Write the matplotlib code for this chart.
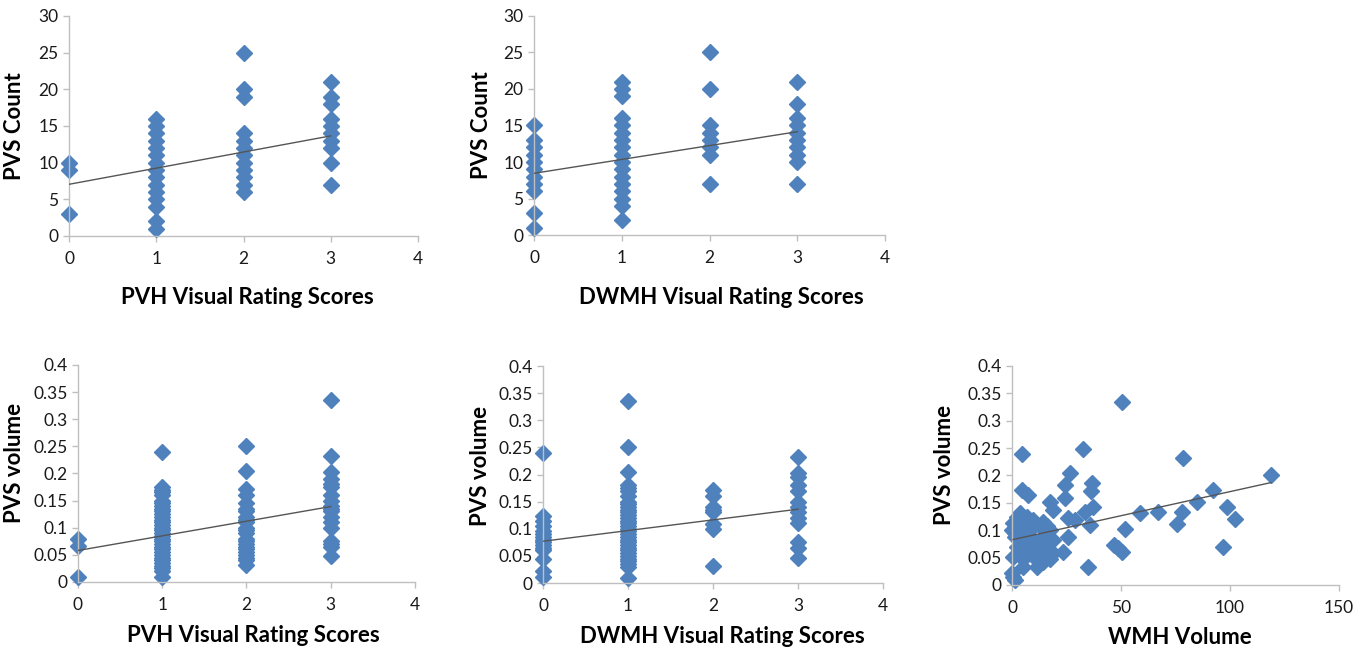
import numpy as np
import matplotlib
matplotlib.use('Agg')
import matplotlib.pyplot as plt
from matplotlib.ticker import FuncFormatter

plt.rcParams['font.family'] = ['Lato', 'DejaVu Sans']

# PVS count by PVH visual rating score
pvh_count = {
    0: [10, 9, 3],
    1: [16, 15, 14, 13, 12, 11, 10, 9, 8, 7, 6, 5, 4, 2, 1],
    2: [25, 20, 19, 14, 13, 12, 11, 10, 9, 8, 7, 6],
    3: [21, 19, 18, 16, 15, 14, 13, 12, 10, 7],
}
# PVS count by DWMH visual rating score
dwmh_count = {
    0: [15, 13, 12, 11, 10, 9, 8, 7, 6, 3, 1],
    1: [21, 20, 19, 16, 15, 14, 13, 12, 11, 10, 9, 8, 7, 6, 5, 4, 2],
    2: [25, 20, 15, 14, 13, 12, 11, 7],
    3: [21, 18, 16, 15, 14, 13, 12, 11, 10, 7],
}
# PVS volume by PVH visual rating score
pvh_volume = {
    0: [0.08, 0.067, 0.01],
    1: [0.24, 0.175, 0.17, 0.165, 0.16, 0.15, 0.145, 0.14, 0.135, 0.13, 0.125,
        0.12, 0.115, 0.11, 0.105, 0.1, 0.095, 0.09, 0.085, 0.08, 0.075, 0.07,
        0.065, 0.06, 0.055, 0.05, 0.045, 0.04, 0.035, 0.03, 0.025, 0.02, 0.01],
    2: [0.25, 0.205, 0.172, 0.16, 0.145, 0.135, 0.13, 0.12, 0.115, 0.11, 0.1,
        0.095, 0.09, 0.08, 0.075, 0.07, 0.065, 0.06, 0.055, 0.05, 0.045, 0.04, 0.032],
    3: [0.335, 0.233, 0.202, 0.19, 0.18, 0.175, 0.16, 0.15, 0.14, 0.135, 0.13,
        0.12, 0.11, 0.1, 0.075, 0.07, 0.065, 0.047],
}
# PVS volume by DWMH visual rating score
dwmh_volume = {
    0: [0.24, 0.123, 0.115, 0.105, 0.095, 0.09, 0.085, 0.08, 0.075, 0.07, 0.065,
        0.06, 0.045, 0.022, 0.012],
    1: [0.335, 0.25, 0.205, 0.18, 0.175, 0.17, 0.16, 0.15, 0.145, 0.14, 0.135,
        0.13, 0.125, 0.12, 0.115, 0.11, 0.105, 0.1, 0.095, 0.09, 0.085, 0.08,
        0.075, 0.07, 0.065, 0.06, 0.055, 0.05, 0.045, 0.04, 0.035, 0.03, 0.01],
    2: [0.172, 0.16, 0.14, 0.135, 0.13, 0.108, 0.1, 0.032],
    3: [0.233, 0.202, 0.195, 0.18, 0.17, 0.15, 0.14, 0.13, 0.12, 0.11, 0.075,
        0.065, 0.047],
}
# PVS volume vs WMH volume
wmh_x = [50.4, 4.4, 32.4, 78.6, 119, 26.6, 24.3, 36.5, 36.1, 4.4, 7.5, 24.3,
         17.4, 19, 37.3, 33.5, 25.8, 28.9, 35.8, 51.8, 58.7, 67, 75.5, 77.8,
         84.7, 92, 98.4, 102.2, 96.6, 47, 48.5, 50.3, 35, 25.8, 23.5,
         0.6, 1.4, 0, 5.2, 11.3, 14.4, 17.4, 19, 16.7, 12.8, 9, 6.7, 3.7, 9.8,
         14.4, 19, 17.4, 12.8, 8.3, 5.2, 2.1, 0.6, 0.6, 1.4, 2.9, 6, 9.8, 14.4,
         15.9, 3.7, 6.7, 2.1, 3.7, 5.2, 0.6, 0, 9.8, 12, 1.5, 4, 7, 3, 2.5]
wmh_y = [0.334, 0.24, 0.248, 0.232, 0.2, 0.204, 0.183, 0.186, 0.171, 0.174, 0.165,
         0.158, 0.152, 0.137, 0.143, 0.134, 0.122, 0.118, 0.109, 0.102, 0.131,
         0.133, 0.112, 0.133, 0.152, 0.173, 0.143, 0.12, 0.07, 0.073, 0.067,
         0.061, 0.032, 0.088, 0.061,
         0.015, 0.009, 0.022, 0.033, 0.033, 0.042, 0.048, 0.058, 0.064, 0.052,
         0.055, 0.07, 0.076, 0.082, 0.088, 0.082, 0.1, 0.107, 0.1, 0.118, 0.125,
         0.113, 0.1, 0.088, 0.107, 0.104, 0.118, 0.115, 0.107, 0.131, 0.124,
         0.07, 0.061, 0.048, 0.052, 0.1, 0.07, 0.076, 0.095, 0.09, 0.085,
         0.065, 0.11]

# linear trend lines (intercept, slope, x-range)
trend_pvh_count = (7.05, 2.2, 0, 3)
trend_dwmh_count = (8.45, 1.9, 0, 3)
trend_pvh_volume = (0.058, 0.027, 0, 3)
trend_dwmh_volume = (0.077, 0.0197, 0, 3)
trend_wmh_volume = (0.0825, 0.00088, 0.5, 118.7)

blue = '#4F81BD'
spine_col = '#BFBFBF'
ms = 8.5

fig = plt.figure(figsize=(13.7, 6.55), dpi=100)


def style(ax, xlabel, ylabel, xl, yl, ylab_pos, xlab_pos, fmt=None):
    for s in ['top', 'right']:
        ax.spines[s].set_visible(False)
    for s in ['left', 'bottom']:
        ax.spines[s].set_color(spine_col)
        ax.spines[s].set_linewidth(1)
    ax.tick_params(colors=spine_col, labelcolor='#1a1a1a', labelsize=12.5,
                   length=4, width=1)
    ax.tick_params(axis='x', pad=7)
    ax.set_xlabel(xlabel, fontsize=16, fontweight='bold')
    ax.set_ylabel(ylabel, fontsize=16, fontweight='bold')
    ax.yaxis.set_label_coords(*ylab_pos)
    ax.xaxis.set_label_coords(*xlab_pos)
    ax.set_xlim(*xl)
    ax.set_ylim(*yl)
    if fmt is not None:
        ax.yaxis.set_major_formatter(fmt)


def scatter_groups(ax, groups, trend):
    for score, vals in groups.items():
        ax.plot([score] * len(vals), vals, 'D', color=blue, ms=ms,
                mec=blue, clip_on=False, zorder=2)
    b0, b1, x0, x1 = trend
    xs = np.array([x0, x1])
    ax.plot(xs, b0 + b1 * xs, color='#555555', lw=1, zorder=3)


gfmt = FuncFormatter(lambda v, p: '%g' % round(v, 3))

ax1 = fig.add_axes([0.0504, 0.6397, 0.2547, 0.3359])
scatter_groups(ax1, pvh_count, trend_pvh_count)
style(ax1, 'PVH Visual Rating Scores', 'PVS Count', (0, 4), (0, 30),
      (-0.126, 0.5), (0.51, -0.232))
ax1.set_yticks(np.arange(0, 31, 5))

ax2 = fig.add_axes([0.3898, 0.6412, 0.2562, 0.3344])
scatter_groups(ax2, dwmh_count, trend_dwmh_count)
style(ax2, 'DWMH Visual Rating Scores', 'PVS Count', (0, 4), (0, 30),
      (-0.12, 0.5), (0.533, -0.236))
ax2.set_yticks(np.arange(0, 31, 5))

ax3 = fig.add_axes([0.0569, 0.1115, 0.246, 0.3313])
scatter_groups(ax3, pvh_volume, trend_pvh_volume)
style(ax3, 'PVH Visual Rating Scores', 'PVS volume', (0, 4), (0, 0.4),
      (-0.157, 0.55), (0.52, -0.198), gfmt)
ax3.set_yticks(np.arange(0, 0.401, 0.05))

ax4 = fig.add_axes([0.3964, 0.1099, 0.2482, 0.3313])
scatter_groups(ax4, dwmh_volume, trend_dwmh_volume)
style(ax4, 'DWMH Visual Rating Scores', 'PVS volume', (0, 4), (0, 0.4),
      (-0.154, 0.54), (0.526, -0.198), gfmt)
ax4.set_yticks(np.arange(0, 0.401, 0.05))

ax5 = fig.add_axes([0.7387, 0.1069, 0.2387, 0.3344])
ax5.plot(wmh_x, wmh_y, 'D', color=blue, ms=ms, mec=blue, clip_on=False, zorder=2)
b0, b1, x0, x1 = trend_wmh_volume
xs = np.array([x0, x1])
ax5.plot(xs, b0 + b1 * xs, color='#555555', lw=1, zorder=3)
style(ax5, 'WMH Volume', 'PVS volume', (0, 150), (0, 0.4),
      (-0.174, 0.55), (0.514, -0.19), gfmt)
ax5.set_yticks(np.arange(0, 0.401, 0.05))
ax5.set_xticks([0, 50, 100, 150])

fig.savefig('out.png', dpi=100)
